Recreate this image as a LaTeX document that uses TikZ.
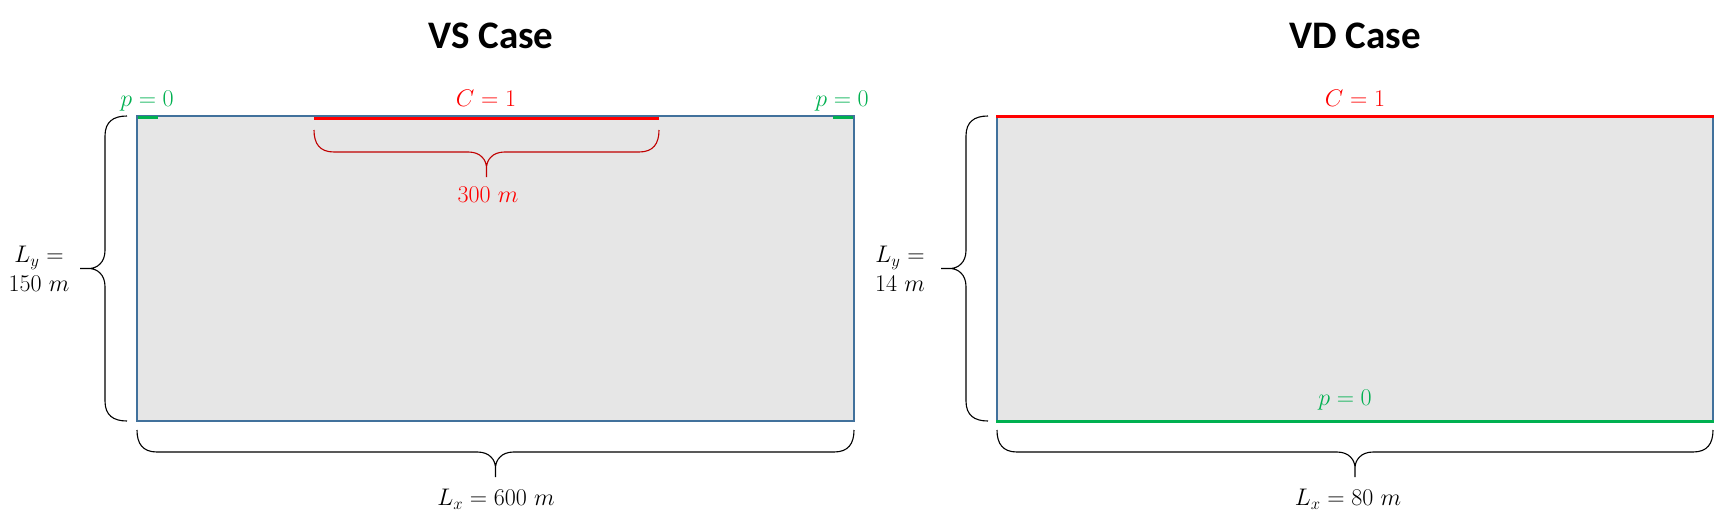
\RequirePackage{fix-cm}
\documentclass[tikz,border=0pt]{standalone}
\usepackage{fontspec}
\newfontfamily\titlefont{Carlito}
\definecolor{bordblue}{RGB}{65,113,156}
\definecolor{domgray}{RGB}{230,230,230}
\definecolor{bcgreen}{RGB}{0,176,80}
\definecolor{bcred}{RGB}{255,0,0}
\definecolor{bracered}{RGB}{192,0,0}
\tikzset{
  domainbox/.style={fill=domgray},
  edgeline/.style={draw=bordblue, line width=2},
  greenbc/.style={draw=bcgreen, line width=3},
  redbc/.style={draw=bcred, line width=3},
  bracek/.style={draw=black, line width=1.1},
  bracer/.style={draw=bracered, line width=1.1},
  titletext/.style={font=\titlefont\bfseries\fontsize{39}{44}\selectfont, inner sep=0},
  mathlbl/.style={font=\fontsize{24}{29}\selectfont, inner sep=0, align=center},
}
\newcommand\HBrace[4]{%
 \draw[#4] ({#1},{#3}) .. controls ({#1},{#3+14}) and ({#1+6},{#3+22}) .. ({#1+20},{#3+22})
 -- ({(#1+#2)/2-18},{#3+22}) .. controls ({(#1+#2)/2-6},{#3+22}) and ({(#1+#2)/2},{#3+30}) .. ({(#1+#2)/2},{#3+38}) -- ({(#1+#2)/2},{#3+47})
 ({(#1+#2)/2},{#3+38}) .. controls ({(#1+#2)/2},{#3+30}) and ({(#1+#2)/2+6},{#3+22}) .. ({(#1+#2)/2+18},{#3+22})
 -- ({#2-20},{#3+22}) .. controls ({#2-6},{#3+22}) and ({#2},{#3+14}) .. ({#2},{#3});}
\newcommand\VBrace[4]{%
 \draw[#4] ({#1},{#2}) .. controls ({#1-14},{#2}) and ({#1-22},{#2+6}) .. ({#1-22},{#2+20})
 -- ({#1-22},{(#2+#3)/2-18}) .. controls ({#1-22},{(#2+#3)/2-6}) and ({#1-30},{(#2+#3)/2}) .. ({#1-38},{(#2+#3)/2}) -- ({#1-47},{(#2+#3)/2})
 ({#1-38},{(#2+#3)/2}) .. controls ({#1-30},{(#2+#3)/2}) and ({#1-22},{(#2+#3)/2+6}) .. ({#1-22},{(#2+#3)/2+18})
 -- ({#1-22},{#3-20}) .. controls ({#1-22},{#3-6}) and ({#1-14},{#3}) .. ({#1},{#3});}
\begin{document}
\begin{tikzpicture}[x=1pt,y=-1pt]
\useasboundingbox (0,0) rectangle (1716,520);
% ---------- VS case ----------
\node[titletext] (vstitle) at (491,36) {VS Case};
\path[domainbox] (137,116) rectangle (854,421);
\draw[edgeline] (137,116) rectangle (854,421);
\draw[greenbc] (138,117.5) -- (158,117.5);
\draw[greenbc] (833,117.5) -- (853,117.5);
\draw[redbc] (314,118) -- (659,118);
\node[mathlbl, text=bcgreen] (vsp1) at (147,101) {$p=0$};
\node[mathlbl, text=bcgreen] (vsp2) at (842,101) {$p=0$};
\node[mathlbl, text=bcred] (vsc) at (486,98) {$C=1$};
\HBrace{314}{659}{130}{bracer}
\node[mathlbl, text=bcred] (vs300) at (488,195) {$300\ m$};
\VBrace{127}{116}{421}{bracek}
\node[mathlbl] (vsly) at (39,269) {$L_y=$\\$150\ m$};
\HBrace{137}{854}{430}{bracek}
\node[mathlbl] (vslx) at (496,499) {$L_x=600\ m$};
% ---------- VD case ----------
\node[titletext] (vdtitle) at (1355,36) {VD Case};
\path[domainbox] (997,116) rectangle (1713,421);
\draw[edgeline] (997,116) -- (997,421);
\draw[edgeline] (1713,116) -- (1713,421);
\draw[redbc] (996,116.5) -- (1714,116.5);
\draw[greenbc] (996,421) -- (1714,421);
\node[mathlbl, text=bcred] (vdc) at (1355,98) {$C=1$};
\node[mathlbl, text=bcgreen] (vdp) at (1345,400) {$p=0$};
\VBrace{988}{116}{421}{bracek}
\node[mathlbl] (vdly) at (900,269) {$L_y=$\\$14\ m$};
\HBrace{997}{1713}{430}{bracek}
\node[mathlbl] (vdlx) at (1348,499) {$L_x=80\ m$};
\end{tikzpicture}
\end{document}
